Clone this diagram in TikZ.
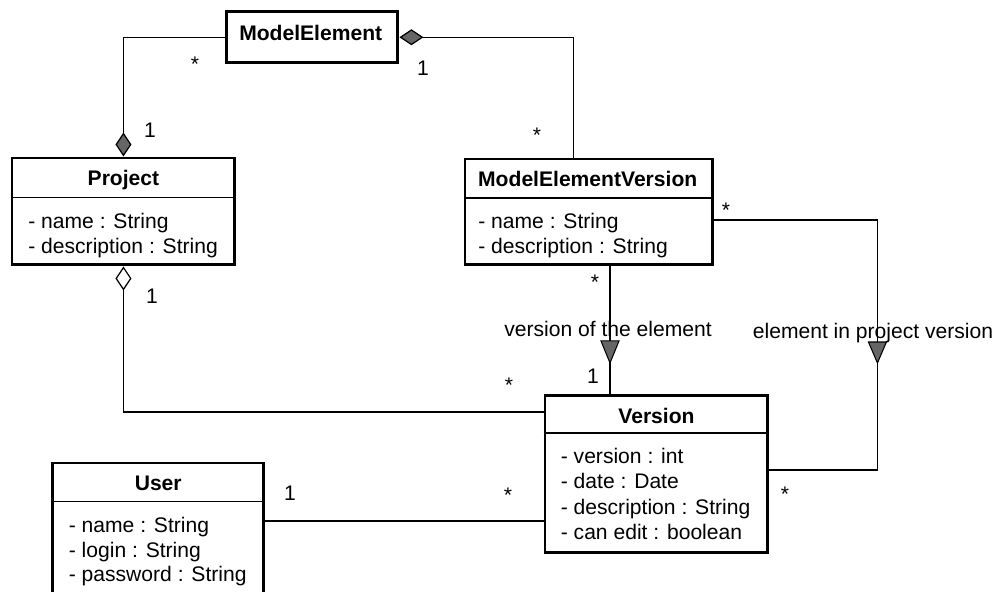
\documentclass[tikz,border=0pt]{standalone}
\usepackage{fontspec}
\setmainfont{Liberation Sans}
\usetikzlibrary{arrows.meta,calc}
\definecolor{markgray}{HTML}{666666}
\newcommand{\umlfont}{\fontsize{12}{14}\selectfont}
\tikzset{
    klass/.style={draw, line width=1.7pt, fill=white, anchor=north west, inner sep=0pt},
    sepline/.style={line width=1pt},
    title/.style={anchor=base, inner sep=0pt, font=\umlfont\bfseries},
    attr/.style={anchor=base west, inner sep=0pt, font=\umlfont},
    mult/.style={anchor=base, inner sep=0pt, font=\umlfont},
    assoc/.style={line width=0.7pt},
    dirmark/.style={line width=0.6pt, fill=markgray},
    fulldia/.tip={Diamond[fill=markgray, length=0.48cm, width=0.32cm]},
    opendia/.tip={Diamond[fill=white, length=0.48cm, width=0.32cm]}
}
\begin{document}
\begin{tikzpicture}[x=0.02cm, y=-0.02cm]
    \useasboundingbox (0, 0) rectangle (998, 592);
    \clip (0, 0) rectangle (998, 592);
    % classes
    \node[klass, minimum width=3.43cm, minimum height=1.03cm] (me) at (225, 10) {};
    \node[klass, minimum width=4.46cm, minimum height=2.14cm] (prj) at (10.5, 156.5) {};
    \node[klass, minimum width=4.95cm, minimum height=2.12cm] (mev) at (463.5, 157.5) {};
    \node[klass, minimum width=4.46cm, minimum height=3.15cm] (ver) at (543.5, 394) {};
    \node[klass, minimum width=4.23cm, minimum height=2.8cm] (usr) at (51, 461.5) {};
    \draw[sepline] ($(prj.north west)+(0, 41)$) -- ($(prj.north east)+(0, 41)$);
    \draw[sepline] ($(mev.north west)+(0, 40.5)$) -- ($(mev.north east)+(0, 40.5)$);
    \draw[sepline] ($(ver.north west)+(0, 39)$) -- ($(ver.north east)+(0, 39)$);
    \draw[sepline] ($(usr.north west)+(0, 40)$) -- ($(usr.north east)+(0, 40)$);
    \node[title] (me-t) at ($(me.north)+(-1.5, 30)$) {ModelElement};
    \node[title] (prj-t) at ($(prj.north)+(0, 29.3)$) {Project};
    \node[title] (mev-t) at ($(mev.north)+(-1, 29.3)$) {ModelElementVersion};
    \node[title] (ver-t) at ($(ver.north)+(0, 29.3)$) {Version};
    \node[title] (usr-t) at ($(usr.north)+(0, 29.3)$) {User};
    \foreach \a [count=\i] in {- name : String, - description : String}
        \node[attr] (prj-a\i) at ($(prj.north west)+(17.5, {46.5+25*\i})$) {\a};
    \foreach \a [count=\i] in {- name : String, - description : String}
        \node[attr] (mev-a\i) at ($(mev.north west)+(14.5, {45.5+25*\i})$) {\a};
    \foreach \a [count=\i] in {- version : int, - date : Date, - description : String, - can edit : boolean}
        \node[attr] (ver-a\i) at ($(ver.north west)+(17, {44+25.4*\i})$) {\a};
    \foreach \a [count=\i] in {- name : String, - login : String, - password : String}
        \node[attr] (usr-a\i) at ($(usr.north west)+(17.5, {46.5+24.5*\i})$) {\a};
    % associations
    \draw[assoc, -fulldia] (me.west) -| (prj.north);
    \draw[assoc, fulldia-] (me.east) -| ($(mev.north)+(-15.25, 0)$);
    \draw[assoc, opendia-] (prj.south) |- ($(ver.north west)+(0, 18)$);
    \coordinate (u1) at ($(usr.north east)+(0, 59.5)$);
    \draw[assoc] (u1) -- (u1 -| ver.west);
    \coordinate (v1) at ($(mev.south west)+(146.5, 0)$);
    \draw[assoc] (v1) -- (v1 |- ver.north);
    \coordinate (e1) at ($(mev.north east)+(0, 62.5)$);
    \coordinate (e2) at ($(e1)+(163.5, 0)$);
    \draw[assoc] (e1) -- (e2) |- ($(ver.north east)+(0, 76)$);
    \coordinate (t1) at ($(v1)+(0, 74.5)$);
    \coordinate (t2) at ($(e2)+(0, 122)$);
    \filldraw[dirmark] ($(t1)+(-9, 0)$) -- ($(t1)+(9, 0)$) -- ($(t1)+(0, 22)$) -- cycle;
    \filldraw[dirmark] ($(t2)+(-9, 0)$) -- ($(t2)+(9, 0)$) -- ($(t2)+(0, 21)$) -- cycle;
    \node[mult] (l1) at (608, 336) {version of the element};
    \node[mult] (l2) at (873, 338) {element in project version};
    % multiplicities
    \node[mult] (m1) at (195, 71) {*};
    \node[mult] (m2) at (150, 137) {1};
    \node[mult] (m3) at (423, 75) {1};
    \node[mult] (m4) at (537, 142) {*};
    \node[mult] (m5) at (726, 217) {*};
    \node[mult] (m6) at (595, 289) {*};
    \node[mult] (m7) at (152, 303) {1};
    \node[mult] (m8) at (509, 392) {*};
    \node[mult] (m9) at (593, 383) {1};
    \node[mult] (m10) at (785, 501) {*};
    \node[mult] (m11) at (290, 500) {1};
    \node[mult] (m12) at (508, 502) {*};
\end{tikzpicture}
\end{document}
